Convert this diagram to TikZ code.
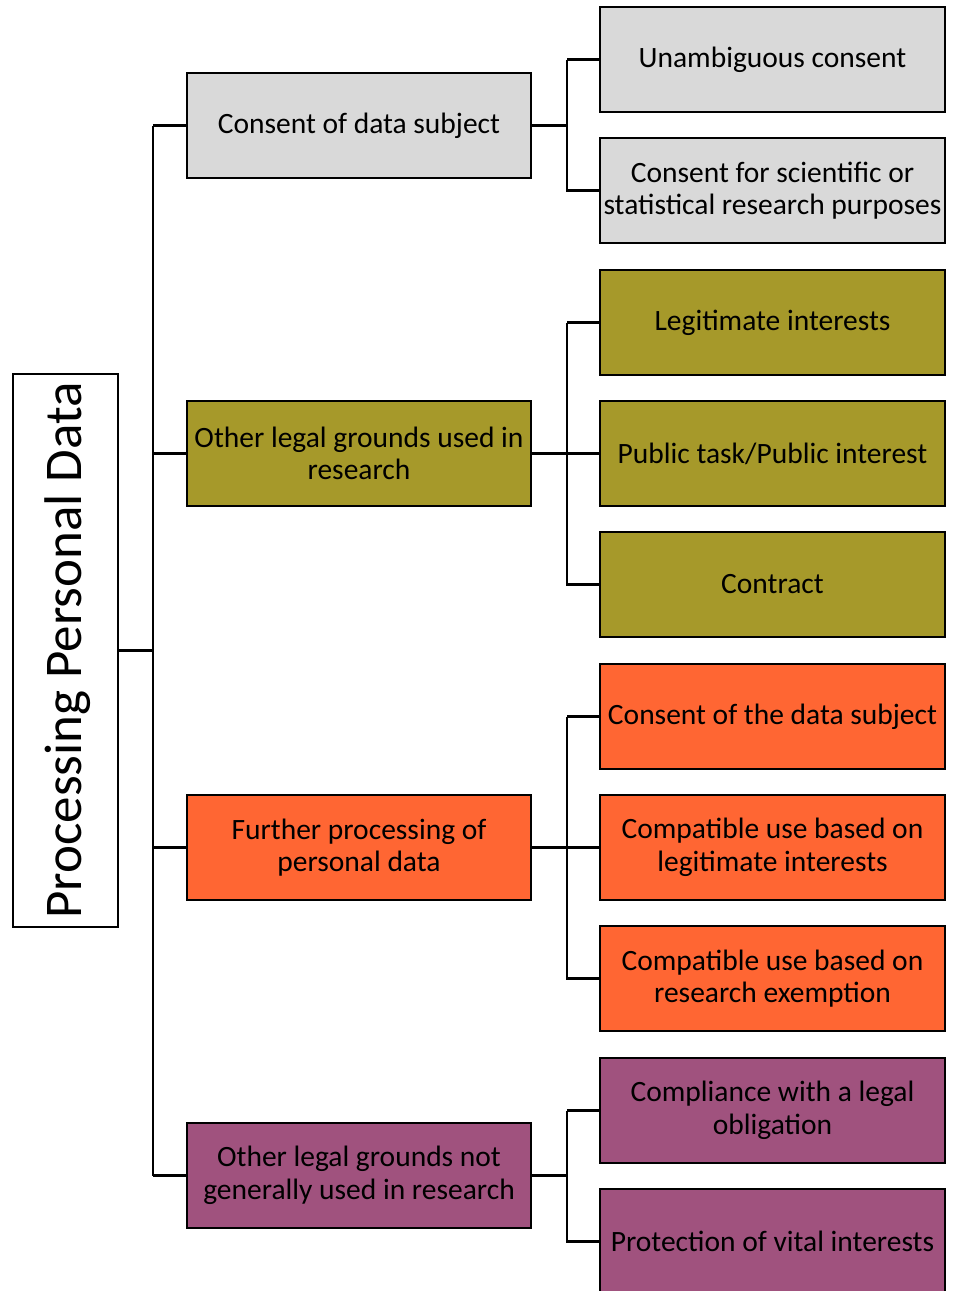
\documentclass[tikz,border=0pt]{standalone}
\usepackage{fontspec}
\setmainfont{Carlito}
\usetikzlibrary{calc}
\usepackage{xcolor}
\definecolor{boxgray}{HTML}{D9D9D9}
\definecolor{boxolive}{HTML}{A6992A}
\definecolor{boxorange}{HTML}{FF6633}
\definecolor{boxpurple}{HTML}{A0527E}
\tikzset{
  lvlone/.style={draw=black, line width=2.2pt, minimum width=344pt, minimum height=105pt, inner sep=1pt, align=center, font=\fontsize{29.5}{32.5}\selectfont},
  lvltwo/.style={lvlone, minimum width=345pt},
  link/.style={draw=black, line width=2.2pt}
}
\begin{document}
\begin{tikzpicture}[x=1pt, y=-1pt]
\useasboundingbox (0,0) rectangle (959,1291);
\clip (0,0) rectangle (959,1291);
% root
\node[draw=black, line width=1.8pt, minimum width=105pt, minimum height=553pt, inner sep=0pt] (root) at (65.5,650.5) {};
\node[rotate=90, font=\fontsize{53}{60}\selectfont] (roottext) at ($(root.center)+(2,0)$) {Processing Personal Data};
% first level
\node[lvlone, fill=boxgray]   (cons)  at (359,125.5)  {Consent of data subject};
\node[lvlone, fill=boxolive]  (other) at (359,453.5)  {Other legal grounds used in\\research};
\node[lvlone, fill=boxorange] (furth) at (359,847.5)  {Further processing of\\personal data};
\node[lvlone, fill=boxpurple] (notused) at (359,1175.5) {Other legal grounds not\\generally used in research};
% second level
\node[lvltwo, fill=boxgray]   (unamb) at (772.5,59.5)   {Unambiguous consent};
\node[lvltwo, fill=boxgray]   (scien) at (772.5,190.5)  {Consent for scientific or\\statistical research purposes};
\node[lvltwo, fill=boxolive]  (legit) at (772.5,322.5)  {Legitimate interests};
\node[lvltwo, fill=boxolive]  (pubt)  at (772.5,453.5)  {Public task/Public interest};
\node[lvltwo, fill=boxolive]  (contr) at (772.5,584.5)  {Contract};
\node[lvltwo, fill=boxorange] (consds) at (772.5,716.5) {Consent of the data subject};
\node[lvltwo, fill=boxorange] (complg) at (772.5,847.5) {Compatible use based on\\legitimate interests};
\node[lvltwo, fill=boxorange] (compre) at (772.5,978.5) {Compatible use based on\\research exemption};
\node[lvltwo, fill=boxpurple] (legob) at (772.5,1110.5)  {Compliance with a legal\\obligation};
\node[lvltwo, fill=boxpurple] (vital) at (772.5,1241.5)  {Protection of vital interests};
% connectors from the root
\coordinate (rj) at ($(root.east)+(34,0)$);
\draw[link] (root.east) -- (rj);
\draw[link] (rj |- cons.west) -- (rj |- notused.west);
\foreach \b in {cons, other, furth, notused}
  \draw[link] (rj |- \b.west) -- (\b.west);
% connectors to the second level
\foreach \p/\first/\last in {cons/unamb/scien, other/legit/contr, furth/consds/compre, notused/legob/vital} {
  \coordinate (j\p) at ($(\p.east)+(35,0)$);
  \draw[link] (\p.east) -- (j\p);
  \draw[link] (j\p |- \first.west) -- (\first.west);
  \draw[link] (j\p |- \first.west) -- (j\p |- \last.west) -- (\last.west);
}
\draw[link] (jother |- pubt.west) -- (pubt.west);
\draw[link] (jfurth |- complg.west) -- (complg.west);
\end{tikzpicture}
\end{document}
